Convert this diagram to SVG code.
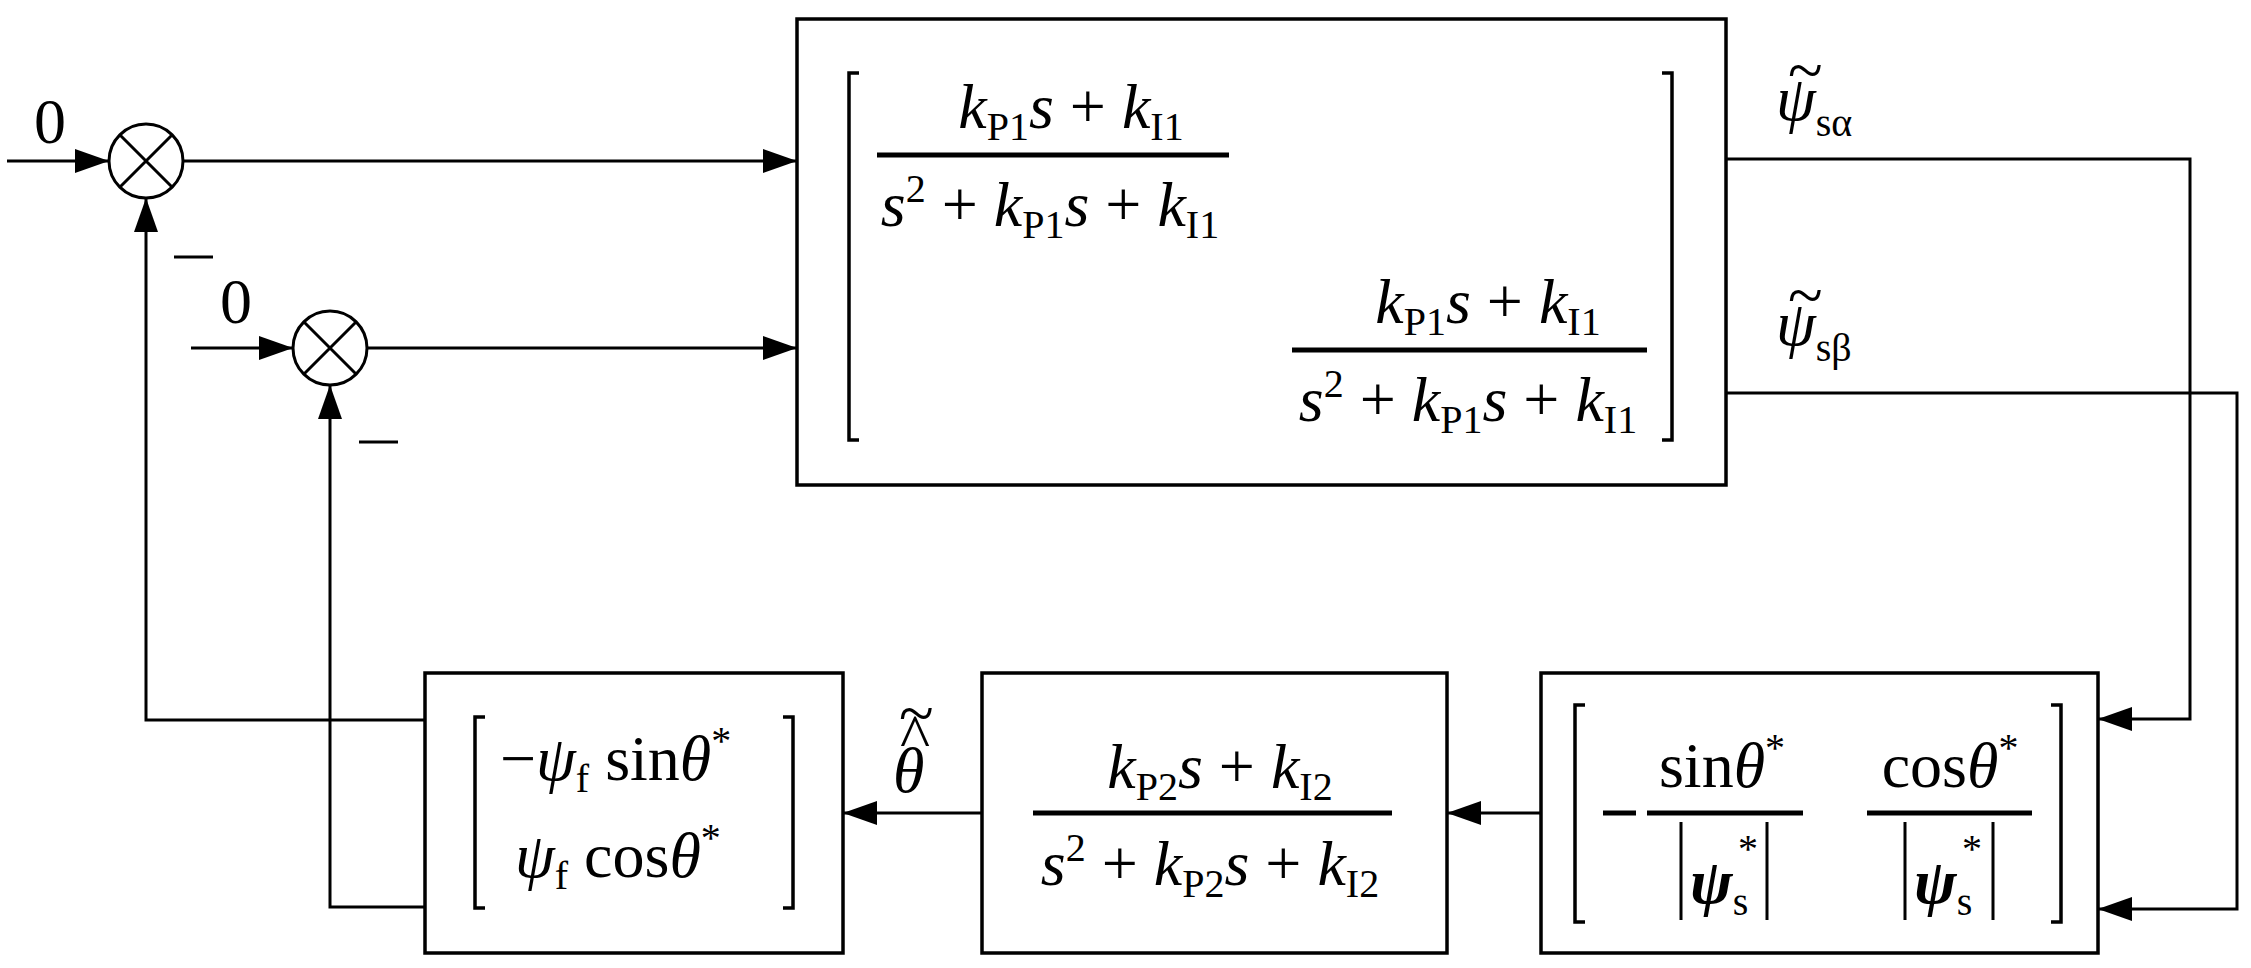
<svg xmlns="http://www.w3.org/2000/svg" width="2251" height="968" viewBox="0 0 2251 968" font-family="'Liberation Serif', 'DejaVu Serif', serif">
<style>
.b{fill:#fff;stroke:#000;stroke-width:3.5}
.l{fill:none;stroke:#000;stroke-width:3}
.fb{stroke:#000;stroke-width:5}
.br{fill:none;stroke:#000;stroke-width:3.5}
text{font-family:'Liberation Serif','DejaVu Serif',serif;font-size:64px;fill:#000}
.i{font-style:italic}
.s{font-size:40px;font-style:normal}
</style>
<defs><marker id="a" markerWidth="34" markerHeight="24" refX="34" refY="12" orient="auto" markerUnits="userSpaceOnUse"><path d="M0,0L34,12L0,24Z" fill="#000"/></marker></defs>
<g id="connectors">
<path class="l" d="M7,161H109" marker-end="url(#a)"/>
<path class="l" d="M191,348H293" marker-end="url(#a)"/>
<path class="l" d="M183,161H797" marker-end="url(#a)"/>
<path class="l" d="M367,348H797" marker-end="url(#a)"/>
<path class="l" d="M425,720H146V198" marker-end="url(#a)"/>
<path class="l" d="M425,907H330V385" marker-end="url(#a)"/>
<path class="l" d="M1726,159H2190V719H2098" marker-end="url(#a)"/>
<path class="l" d="M1726,393H2237V909H2098" marker-end="url(#a)"/>
<path class="l" d="M1541,813H1447" marker-end="url(#a)"/>
<path class="l" d="M982,813H843" marker-end="url(#a)"/>
</g>
<g id="sum1"><circle class="l" cx="146" cy="161" r="37"/><path class="l" d="M120,135L172,187M172,135L120,187"/></g>
<g id="sum2"><circle class="l" cx="330" cy="348" r="37"/><path class="l" d="M304,322L356,374M356,322L304,374"/></g>
<g id="labels">
<text x="34" y="143">0</text>
<text x="220" y="323">0</text>
<path class="l" d="M174,257H213M359,442H398"/>
<text class="i" x="1776" y="120">ψ<tspan class="s" dy="16">sα</tspan></text>
<text x="1788" y="92" font-size="48">~</text>
<text class="i" x="1776" y="345">ψ<tspan class="s" dy="16">sβ</tspan></text>
<text x="1788" y="317" font-size="48">~</text>
<text class="i" x="893" y="792">θ</text>
<text x="900" y="758" font-size="34">^</text>
<text x="899" y="735" font-size="40">~</text>
</g>
<g id="block-pi1">
<rect class="b" x="797" y="19" width="929" height="466"/>
<path class="br" d="M859,73H849V440H859M1662,73H1672V440H1662"/>
<line class="fb" x1="877" y1="155" x2="1229" y2="155"/>
<text x="1071" y="128" text-anchor="middle"><tspan class="i">k</tspan><tspan class="s" dy="12">P1</tspan><tspan class="i" dy="-12">s</tspan> + <tspan class="i">k</tspan><tspan class="s" dy="12">I1</tspan></text>
<text x="1050" y="226" text-anchor="middle"><tspan class="i">s</tspan><tspan class="s" dy="-24">2</tspan><tspan dy="24"> + </tspan><tspan class="i">k</tspan><tspan class="s" dy="12">P1</tspan><tspan class="i" dy="-12">s</tspan> + <tspan class="i">k</tspan><tspan class="s" dy="12">I1</tspan></text>
<line class="fb" x1="1292" y1="350" x2="1647" y2="350"/>
<text x="1488" y="323" text-anchor="middle"><tspan class="i">k</tspan><tspan class="s" dy="12">P1</tspan><tspan class="i" dy="-12">s</tspan> + <tspan class="i">k</tspan><tspan class="s" dy="12">I1</tspan></text>
<text x="1468" y="421" text-anchor="middle"><tspan class="i">s</tspan><tspan class="s" dy="-24">2</tspan><tspan dy="24"> + </tspan><tspan class="i">k</tspan><tspan class="s" dy="12">P1</tspan><tspan class="i" dy="-12">s</tspan> + <tspan class="i">k</tspan><tspan class="s" dy="12">I1</tspan></text>
</g>
<g id="block-f">
<rect class="b" x="425" y="673" width="418" height="280"/>
<path class="br" d="M485,717H475V908H485M783,717H793V908H783"/>
<text x="500" y="780">−<tspan class="i">ψ</tspan><tspan class="s" dy="12">f</tspan><tspan dy="-12"> sin</tspan><tspan class="i">θ</tspan><tspan class="s" dy="-26">*</tspan></text>
<text x="515" y="877"><tspan class="i">ψ</tspan><tspan class="s" dy="12">f</tspan><tspan dy="-12"> cos</tspan><tspan class="i">θ</tspan><tspan class="s" dy="-26">*</tspan></text>
</g>
<g id="block-pi2">
<rect class="b" x="982" y="673" width="465" height="280"/>
<line class="fb" x1="1033" y1="813" x2="1392" y2="813"/>
<text x="1220" y="788" text-anchor="middle"><tspan class="i">k</tspan><tspan class="s" dy="12">P2</tspan><tspan class="i" dy="-12">s</tspan> + <tspan class="i">k</tspan><tspan class="s" dy="12">I2</tspan></text>
<text x="1210" y="885" text-anchor="middle"><tspan class="i">s</tspan><tspan class="s" dy="-24">2</tspan><tspan dy="24"> + </tspan><tspan class="i">k</tspan><tspan class="s" dy="12">P2</tspan><tspan class="i" dy="-12">s</tspan> + <tspan class="i">k</tspan><tspan class="s" dy="12">I2</tspan></text>
</g>
<g id="block-err">
<rect class="b" x="1541" y="673" width="557" height="280"/>
<path class="br" d="M1585,705H1575V922H1585M2051,705H2061V922H2051"/>
<line class="fb" x1="1603" y1="813" x2="1636" y2="813"/>
<line class="fb" x1="1647" y1="813" x2="1803" y2="813"/>
<text x="1722" y="787" text-anchor="middle">sin<tspan class="i">θ</tspan><tspan class="s" dy="-26">*</tspan></text>
<path class="l" d="M1681,822V920M1767,822V920M1905,822V920M1993,822V920"/>
<text x="1690" y="903" font-weight="bold" class="i">ψ<tspan class="s" font-weight="normal" dy="12">s</tspan></text>
<text x="1738" y="862" class="s">*</text>
<line class="fb" x1="1867" y1="813" x2="2032" y2="813"/>
<text x="1950" y="787" text-anchor="middle">cos<tspan class="i">θ</tspan><tspan class="s" dy="-26">*</tspan></text>
<text x="1914" y="903" font-weight="bold" class="i">ψ<tspan class="s" font-weight="normal" dy="12">s</tspan></text>
<text x="1962" y="862" class="s">*</text>
</g>
</svg>
